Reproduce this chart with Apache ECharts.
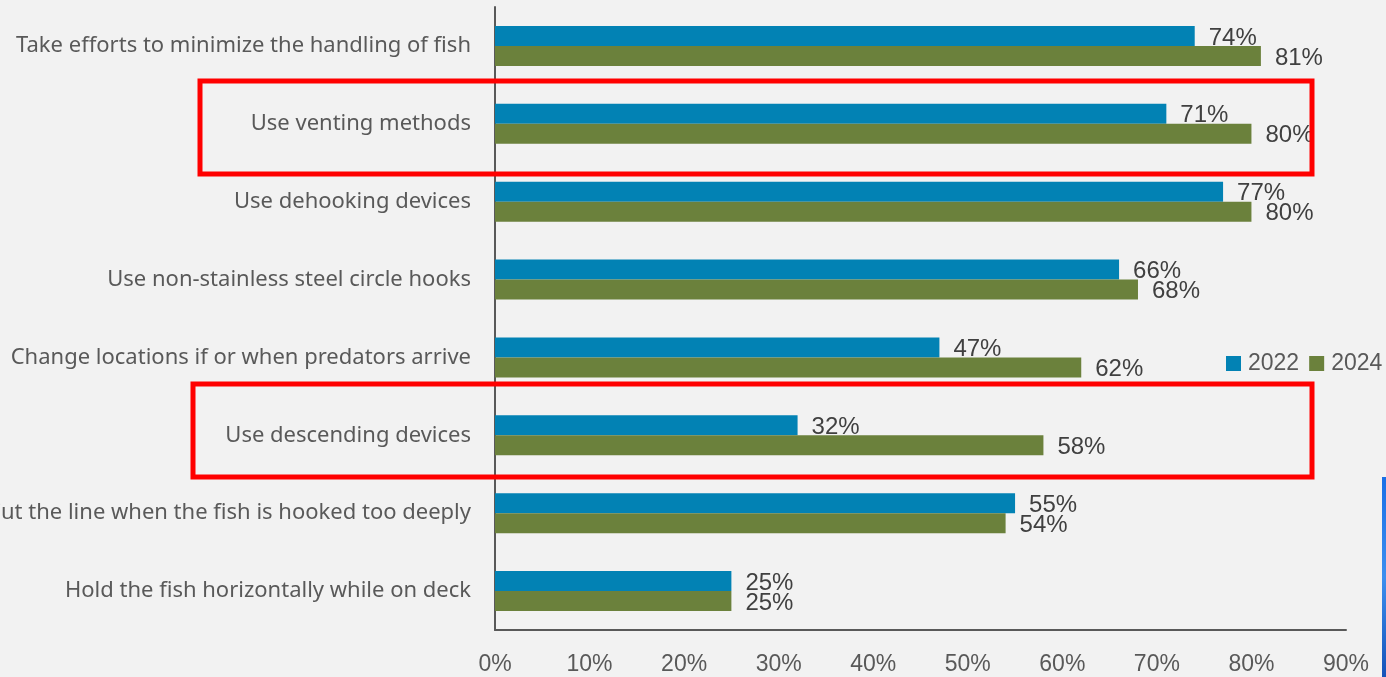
<!DOCTYPE html>
<html>
<head>
<meta charset="utf-8">
<script src="https://cdn.jsdelivr.net/npm/echarts@6/dist/echarts.min.js"></script>
<style>
  html, body { margin: 0; padding: 0; background: #f2f2f2; }
  #main { width: 1386px; height: 677px; }
</style>
</head>
<body>
<div id="main"></div>
<script>
const categories = [
  'Take efforts to minimize the handling of fish',
  'Use venting methods',
  'Use dehooking devices',
  'Use non-stainless steel circle hooks',
  'Change locations if or when predators arrive',
  'Use descending devices',
  'Cut the line when the fish is hooked too deeply',
  'Hold the fish horizontally while on deck'
];
const values2022 = [74, 71, 77, 66, 47, 32, 55, 25];
const values2024 = [81, 80, 80, 68, 62, 58, 54, 25];
const xTicks = [0, 10, 20, 30, 40, 50, 60, 70, 80, 90];

const chart = echarts.init(document.getElementById('main'));

const barLabel = {
  show: true,
  position: 'right',
  distance: 14,
  offset: [0, 2],
  color: '#404040',
  fontSize: 24,
  fontFamily: 'Liberation Sans',
  formatter: '{c}%'
};

const option = {
  backgroundColor: '#f2f2f2',
  animation: false,
  grid: { left: 495, right: 40, top: 7, bottom: 47, containLabel: false, outerBoundsMode: 'none' },
  legend: {
    orient: 'horizontal',
    left: 1226,
    top: 352,
    padding: 0,
    itemWidth: 15,
    itemHeight: 15,
    itemGap: 10,
    icon: 'rect',
    textStyle: { fontSize: 23, color: '#595959', fontFamily: 'Liberation Sans', padding: [0, 0, 0, 2] },
    data: ['2022', '2024']
  },
  xAxis: {
    type: 'value',
    min: xTicks[0],
    max: xTicks[xTicks.length - 1],
    interval: 10,
    splitLine: { show: false },
    axisTick: { show: false },
    axisLine: { show: true, lineStyle: { color: '#595959', width: 2 } },
    axisLabel: {
      margin: 23,
      fontSize: 23,
      color: '#595959',
      fontFamily: 'Liberation Sans',
      formatter: '{value}%'
    }
  },
  yAxis: {
    type: 'category',
    inverse: true,
    data: categories,
    axisTick: { show: false },
    axisLine: { show: true, lineStyle: { color: '#595959', width: 2 } },
    axisLabel: {
      margin: 24,
      fontSize: 22,
      color: '#595959',
      fontFamily: 'Noto Sans'
    }
  },
  series: [
    {
      name: '2022',
      type: 'bar',
      data: values2022,
      barWidth: 20,
      barGap: '0%',
      itemStyle: { color: '#0282b4' },
      label: barLabel
    },
    {
      name: '2024',
      type: 'bar',
      data: values2024,
      barWidth: 20,
      itemStyle: { color: '#6b813c' },
      label: barLabel
    }
  ],
  graphic: [
    {
      type: 'rect',
      shape: { x: 200, y: 81, width: 1112, height: 93 },
      style: { fill: 'none', stroke: '#ff0000', lineWidth: 5 },
      z: 100
    },
    {
      type: 'rect',
      shape: { x: 193, y: 384, width: 1119, height: 93 },
      style: { fill: 'none', stroke: '#ff0000', lineWidth: 5 },
      z: 100
    },
    {
      // sliver of a blue image at the right edge
      type: 'rect',
      shape: { x: 1382, y: 477, width: 4, height: 200 },
      style: {
        fill: new echarts.graphic.LinearGradient(0, 0, 0, 1, [
          { offset: 0, color: '#1a6fe6' },
          { offset: 0.5, color: '#3d8fef' },
          { offset: 1, color: '#1552b8' }
        ])
      }
    }
  ]
};

chart.setOption(option);
</script>
</body>
</html>
